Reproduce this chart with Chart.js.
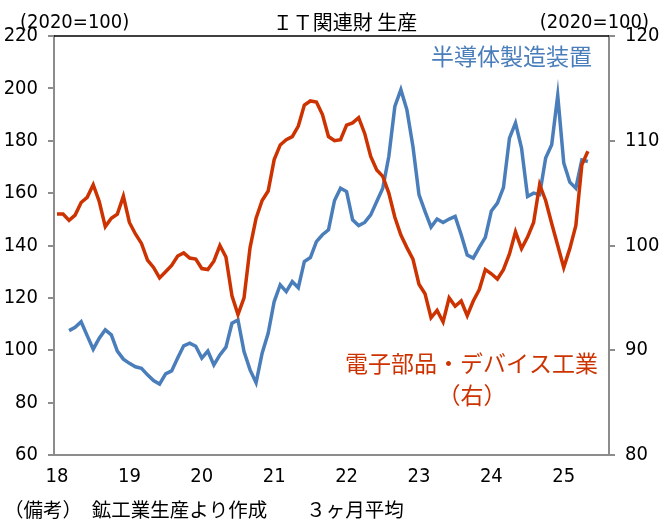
<!DOCTYPE html>
<html><head><meta charset="utf-8">
<script src="https://cdn.jsdelivr.net/npm/chart.js@4.4.1/dist/chart.umd.min.js"></script>
<style>html,body{margin:0;padding:0;background:#fff;}canvas{display:block;}</style>
</head><body>
<canvas id="c" width="663" height="523"></canvas>
<script>
// Categories: monthly, Jan 2018 .. Aug 2025 (axis extent)
const startYear = 2018, endYear = 2025, endMonth = 8;
const months = [];
for (let y = startYear; y <= endYear; y++) {
  for (let m = 1; m <= 12; m++) {
    if (y === endYear && m > endMonth) break;
    months.push(y + '-' + String(m).padStart(2, '0'));
  }
}
const yearTickLabels = ['18', '19', '20', '21', '22', '23', '24', '25'];

// 半導体製造装置 (left axis, 3-month average, 2020=100)
const semiEquip = [
  null, null, 107.5, 108.8, 110.9, 105.6, 100.4, 104.6, 107.8, 105.9, 99.7, 96.6,
  95.0, 93.7, 93.1, 90.6, 88.4, 87.1, 91.0, 92.1, 97.0, 101.7, 102.7, 101.5,
  97.0, 99.7, 94.4, 98.2, 101.2, 110.3, 111.6, 99.5, 92.5, 87.6, 98.9, 106.5,
  118.6, 125.0, 122.4, 126.2, 123.9, 133.9, 135.4, 141.5, 144.1, 146.0, 157.2, 161.9,
  160.6, 149.8, 147.6, 148.8, 151.7, 156.8, 161.9, 174.0, 193.1, 199.5, 191.8, 177.8,
  159.4, 153.0, 147.0, 150.1, 148.8, 150.1, 151.1, 144.1, 136.4, 135.2, 139.3, 143.1,
  153.2, 156.2, 162.1, 181.0, 186.8, 177.2, 158.7, 160.0, 159.4, 173.4, 178.5, 197.3,
  171.5, 164.2, 161.9, 172.7, 172.1
];

// 電子部品・デバイス工業 (right axis, 3-month average, 2020=100)
const electronics = [
  103.0, 103.0, 102.4, 102.9, 104.1, 104.6, 105.8, 104.2, 101.8, 102.6, 103.0, 104.7,
  102.2, 101.1, 100.2, 98.6, 97.9, 96.9, 97.5, 98.1, 99.0, 99.3, 98.8, 98.7,
  97.8, 97.7, 98.5, 100.0, 98.9, 95.2, 93.4, 95.0, 99.8, 102.6, 104.3, 105.2,
  108.2, 109.6, 110.1, 110.4, 111.4, 113.4, 113.8, 113.7, 112.5, 110.4, 110.0, 110.1,
  111.5, 111.7, 112.2, 110.7, 108.5, 107.2, 106.6, 105.0, 102.7, 101.0, 99.8, 98.7,
  96.3, 95.4, 93.1, 93.8, 92.7, 95.0, 94.2, 94.7, 93.3, 94.7, 95.8, 97.7,
  97.3, 96.8, 97.7, 99.2, 101.3, 99.7, 100.8, 102.2, 105.8, 104.3, 102.1, 100.0,
  97.9, 99.7, 101.9, 107.7, 109.0
];

const leftMin = 60, leftMax = 220, leftStep = 20;
const rightMin = 80, rightMax = 120, rightStep = 10;

const BLUE = '#4A7EBB';
const RED = '#CC3300';
const AXIS_GRAY = '#8C8C8C';
const NUM_FONT = '"Liberation Sans Narrow", "DejaVu Sans Condensed", "Noto Sans CJK JP", sans-serif';
const JP_FONT = '"Noto Sans CJK JP", "Noto Sans", sans-serif';
const NUM_SIZE = 20;

const textPlugin = {
  id: 'texts',
  afterDraw(chart) {
    const ctx = chart.ctx;
    const a = chart.chartArea;
    ctx.save();
    // top border
    ctx.strokeStyle = '#000';
    ctx.lineWidth = 1.5;
    ctx.beginPath();
    ctx.moveTo(a.left, a.top);
    ctx.lineTo(a.right, a.top);
    ctx.stroke();

    ctx.textBaseline = 'middle';
    ctx.fillStyle = '#000';
    ctx.font = NUM_SIZE + 'px ' + NUM_FONT;
    ctx.textAlign = 'left';
    ctx.fillText('(2020=100)', 20, 23);
    ctx.textAlign = 'right';
    ctx.fillText('(2020=100)', 649, 23);

    ctx.font = '20px ' + JP_FONT;
    ctx.textAlign = 'center';
    ctx.fillText('ＩＴ関連財 生産', 345, 22);

    ctx.font = '23px ' + JP_FONT;
    ctx.fillStyle = BLUE;
    ctx.textAlign = 'right';
    ctx.fillText('半導体製造装置', 592, 56);

    ctx.fillStyle = RED;
    ctx.fillText('電子部品・デバイス工業', 598, 363);
    ctx.textAlign = 'center';
    ctx.fillText('（右）', 472, 395);

    ctx.fillStyle = '#000';
    ctx.font = '19.5px ' + JP_FONT;
    ctx.textAlign = 'left';
    ctx.fillText('（備考）　鉱工業生産より作成　　３ヶ月平均', 4, 510);
    ctx.restore();
  }
};

new Chart(document.getElementById('c'), {
  type: 'line',
  data: {
    labels: months,
    datasets: [
      {
        label: '半導体製造装置',
        data: semiEquip,
        yAxisID: 'y',
        borderColor: BLUE,
        backgroundColor: BLUE,
        borderWidth: 3.5,
        pointRadius: 0,
        tension: 0,
        order: 1
      },
      {
        label: '電子部品・デバイス工業（右）',
        data: electronics,
        yAxisID: 'y1',
        borderColor: RED,
        backgroundColor: RED,
        borderWidth: 3.5,
        pointRadius: 0,
        tension: 0,
        order: 0
      }
    ]
  },
  options: {
    responsive: false,
    animation: false,
    devicePixelRatio: 1,
    layout: { padding: { top: 36, left: 0, right: 0, bottom: 0 } },
    plugins: { legend: { display: false }, tooltip: { enabled: false }, title: { display: false } },
    scales: {
      x: {
        type: 'category',
        offset: true,
        grid: { display: false, drawTicks: false, tickLength: 0 },
        border: { display: true, color: AXIS_GRAY, width: 2 },
        ticks: {
          autoSkip: false,
          maxRotation: 0,
          minRotation: 0,
          padding: 10,
          color: '#000',
          font: { family: NUM_FONT, size: NUM_SIZE },
          callback: function (val, idx) {
            return idx % 12 === 0 ? yearTickLabels[idx / 12] : '';
          }
        },
        afterFit: s => { s.height = 68; }
      },
      y: {
        position: 'left',
        min: leftMin, max: leftMax,
        grid: { display: true, drawOnChartArea: false, drawTicks: true, tickLength: 6, color: AXIS_GRAY, lineWidth: 2 },
        border: { display: true, color: AXIS_GRAY, width: 2 },
        ticks: { stepSize: leftStep, padding: 10, color: '#000', font: { family: NUM_FONT, size: NUM_SIZE } },
        afterFit: s => { s.width = 54; }
      },
      y1: {
        position: 'right',
        min: rightMin, max: rightMax,
        grid: { display: true, drawOnChartArea: false, drawTicks: true, tickLength: 6, color: AXIS_GRAY, lineWidth: 2 },
        border: { display: true, color: AXIS_GRAY, width: 2 },
        ticks: { stepSize: rightStep, padding: 10, color: '#000', font: { family: NUM_FONT, size: NUM_SIZE } },
        afterFit: s => { s.width = 54; }
      }
    }
  },
  plugins: [textPlugin]
});
</script>
</body></html>
